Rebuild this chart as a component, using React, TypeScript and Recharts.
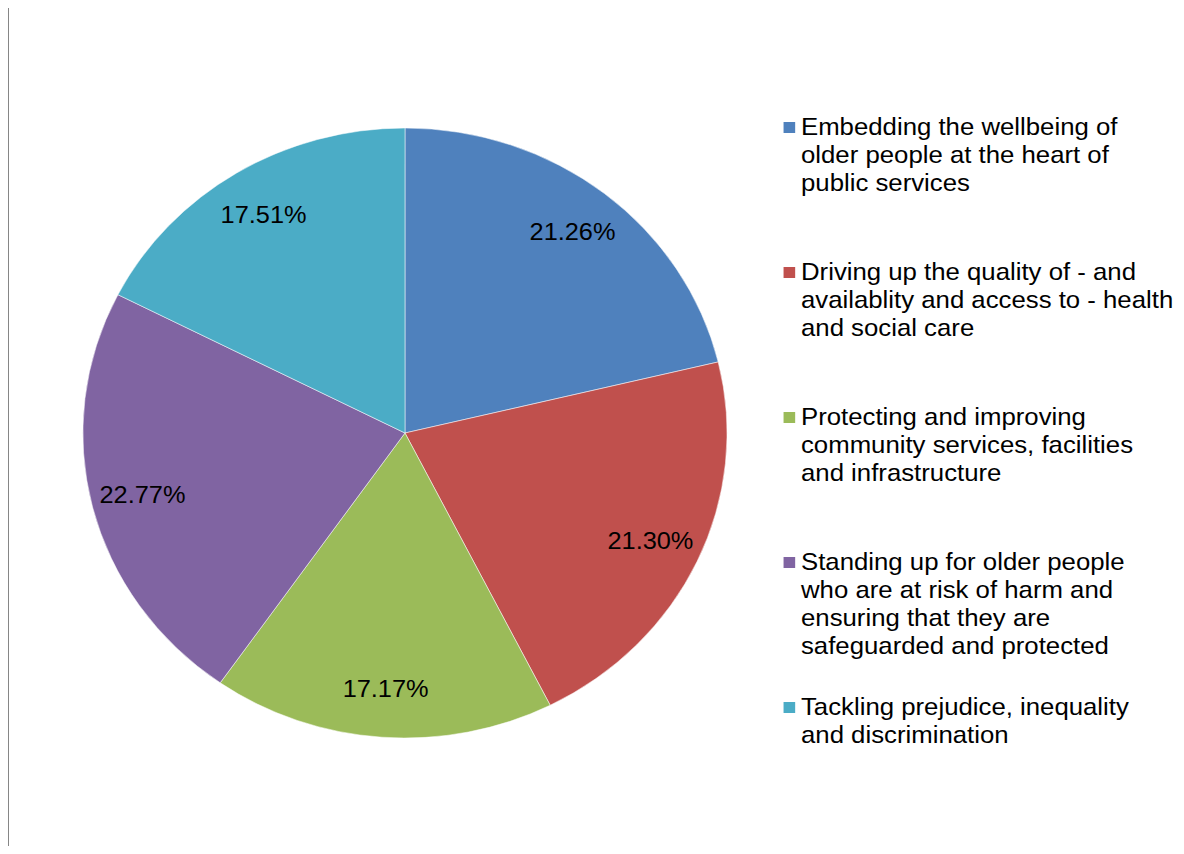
import React from 'react';
import { PieChart, Pie, Cell, Legend } from 'recharts';

const CATEGORIES = [
  'Embedding the wellbeing of\nolder people at the heart of\npublic services',
  'Driving up the quality of - and\navailablity and access to - health\nand social care',
  'Protecting and improving\ncommunity services, facilities\nand infrastructure',
  'Standing up for older people\nwho are at risk of harm and\nensuring that they are\nsafeguarded and protected',
  'Tackling prejudice, inequality\nand discrimination',
];
const VALUES = [21.26, 21.3, 17.17, 22.77, 17.51];
const COLORS = ['#4F81BD', '#C0504D', '#9BBB59', '#8064A2', '#4BACC6'];

const data = CATEGORIES.map((name, i) => ({ name, value: VALUES[i] }));

const FONT = '"Liberation Sans", Arial, sans-serif';
const SX = 1.056;
const RAD = Math.PI / 180;

const renderLabel = (props: any) => {
  const { cx, cy, midAngle, outerRadius, value } = props;
  const r = outerRadius * 0.84;
  const x = cx + r * Math.cos(-midAngle * RAD);
  const y = cy + r * Math.sin(-midAngle * RAD);
  return (
    <text
      x={x}
      y={y}
      textAnchor="middle"
      dominantBaseline="central"
      fill="#000"
      fontSize={24}
      fontFamily={FONT}
    >
      {Number(value).toFixed(2)}%
    </text>
  );
};

const LegendContent = (props: any) => {
  const payload = [...(props.payload || [])].sort(
    (a: any, b: any) => CATEGORIES.indexOf(a.value) - CATEGORIES.indexOf(b.value)
  );
  return (
    <div style={{ fontFamily: FONT, fontSize: 24.4, color: '#000' }}>
      {payload.map((entry: any, i: number) => (
        <div key={i} style={{ display: 'flex', alignItems: 'flex-start', height: 145 }}>
          <div
            style={{
              width: 11,
              height: 11,
              background: entry.color,
              marginTop: 9,
              marginRight: 6,
              flex: 'none',
            }}
          />
          <div style={{ whiteSpace: 'pre-line', lineHeight: '28px' }}>{entry.value}</div>
        </div>
      ))}
    </div>
  );
};

export default function App() {
  return (
    <div style={{ position: 'relative', width: 1184, height: 854, overflow: 'hidden', margin: -8 }}>
      <div
        style={{
          position: 'absolute',
          left: 0,
          top: 0,
          width: 1121,
          height: 854,
          transform: `scaleX(${SX})`,
          transformOrigin: '0 0',
        }}
      >
        <PieChart width={1121} height={854} margin={{ top: 0, right: 0, bottom: 0, left: 0 }}>
          <Pie
            data={data}
            dataKey="value"
            nameKey="name"
            cx={383.5}
            cy={433}
            outerRadius={305}
            startAngle={90}
            endAngle={-270}
            stroke="#fff"
            strokeWidth={0.5}
            label={renderLabel}
            labelLine={false}
            isAnimationActive={false}
          >
            {data.map((d, i) => (
              <Cell key={i} fill={COLORS[i]} />
            ))}
          </Pie>
          <Legend
            layout="vertical"
            align="right"
            verticalAlign="top"
            content={<LegendContent />}
            wrapperStyle={{ left: 741.5, top: 113, width: 380 }}
          />
        </PieChart>
      </div>
      <div style={{ position: 'absolute', left: 7, top: 6, width: 1177, height: 2, background: '#868686', zIndex: 10 }} />
      <div style={{ position: 'absolute', left: 7, top: 6, width: 2, height: 848, background: '#868686', zIndex: 10 }} />
    </div>
  );
}
